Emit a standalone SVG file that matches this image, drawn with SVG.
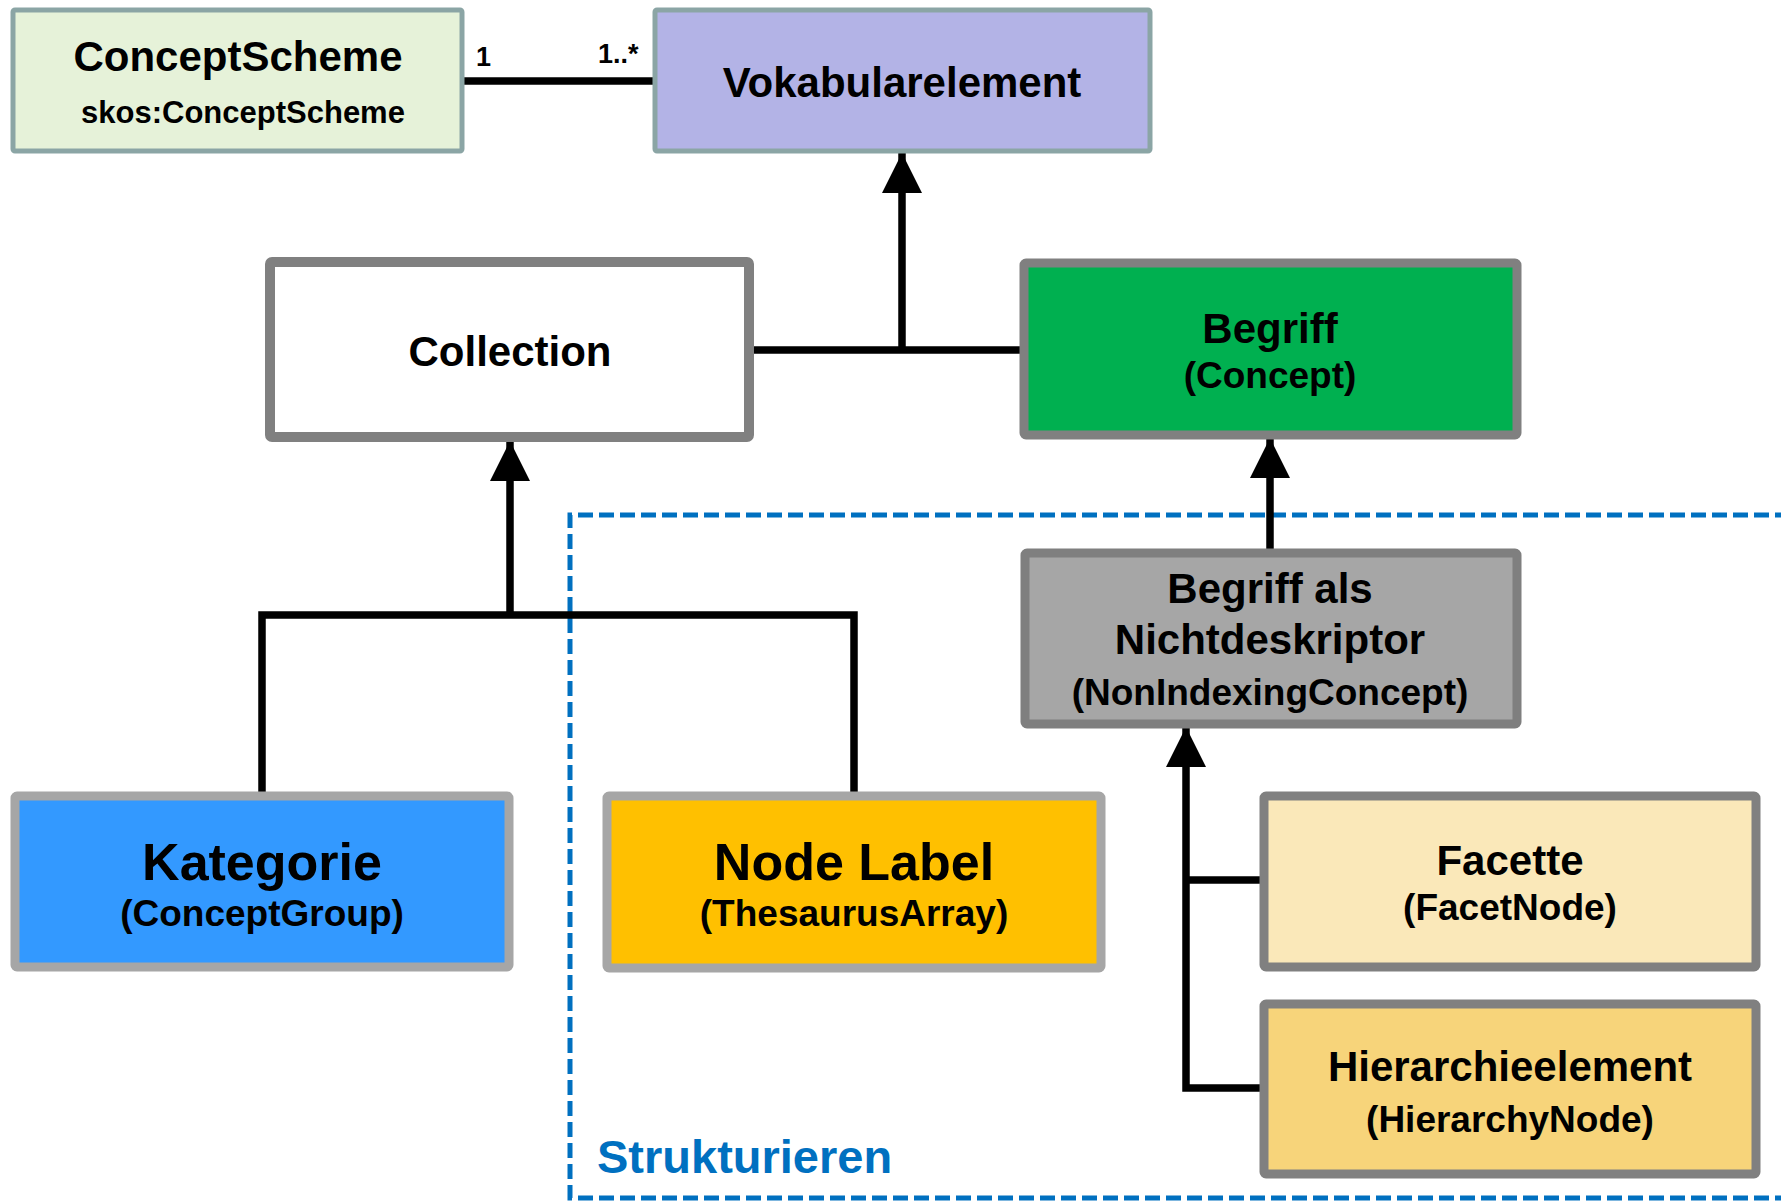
<svg xmlns="http://www.w3.org/2000/svg" width="1781" height="1202" viewBox="0 0 1781 1202">
<style>
  text { font-family: "Liberation Sans", Arial, sans-serif; font-weight: bold; fill: #000; text-anchor: middle; }
  .t42 { font-size: 42px; }
  .t37 { font-size: 37px; }
  .t52 { font-size: 52px; }
  .t31 { font-size: 31px; }
  .mult { font-size: 27px; text-anchor: start; }
  .conn { fill: none; stroke: #000; stroke-width: 7.5; }
  .box { stroke-linejoin: round; }
</style>
<defs>
  <marker id="tri" markerUnits="userSpaceOnUse" markerWidth="40" markerHeight="42" refX="40" refY="20" orient="auto">
    <path d="M0,0 L40,20 L0,40 Z" fill="#000"/>
  </marker>
</defs>
<rect width="1781" height="1202" fill="#fff"/>

<g id="area-strukturieren">
  <path d="M1790,515 H570 V1198 H1790" fill="none" stroke="#0070C0" stroke-width="5" stroke-dasharray="15 6"/>
  <text x="597" y="1173" style="font-size:47px;fill:#0070C0;text-anchor:start">Strukturieren</text>
</g>

<g id="connectors">
  <line class="conn" x1="463" y1="81" x2="654" y2="81"/>
  <line class="conn" x1="752" y1="350" x2="1021" y2="350"/>
  <line class="conn" x1="902" y1="350" x2="902" y2="153" marker-end="url(#tri)"/>
  <line class="conn" x1="1270" y1="550" x2="1270" y2="438" marker-end="url(#tri)"/>
  <path class="conn" d="M262,792 V615 H854 V792"/>
  <line class="conn" x1="510" y1="615" x2="510" y2="441" marker-end="url(#tri)"/>
  <path class="conn" d="M1261,880 H1186"/>
  <path class="conn" d="M1261,1088 H1186 V727" marker-end="url(#tri)"/>
  <text class="mult" x="476" y="66">1</text>
  <text class="mult" x="598" y="63">1..*</text>
</g>

<g id="node-conceptscheme">
  <rect class="box" x="13" y="10" width="449" height="141" rx="2" fill="#E6F2D9" stroke="#8BA5A5" stroke-width="5"/>
  <text class="t42" x="238" y="71">ConceptScheme</text>
  <text class="t31" x="243" y="123">skos:ConceptScheme</text>
</g>

<g id="node-vokabularelement">
  <rect class="box" x="655" y="10" width="495" height="141" rx="2" fill="#B3B3E6" stroke="#8BA5A5" stroke-width="5"/>
  <text class="t42" x="902" y="97">Vokabularelement</text>
</g>

<g id="node-collection">
  <rect class="box" x="270" y="262" width="479" height="175" rx="2" fill="#FFFFFF" stroke="#808080" stroke-width="10"/>
  <text class="t42" x="510" y="366">Collection</text>
</g>

<g id="node-begriff">
  <rect class="box" x="1024" y="263" width="493" height="172" rx="2" fill="#00B050" stroke="#808080" stroke-width="9"/>
  <text class="t42" x="1270" y="343">Begriff</text>
  <text class="t37" x="1270" y="388">(Concept)</text>
</g>

<g id="node-nichtdeskriptor">
  <rect class="box" x="1025" y="553" width="492" height="171" rx="2" fill="#A6A6A6" stroke="#7F7F7F" stroke-width="9"/>
  <text class="t42" x="1270" y="603">Begriff als</text>
  <text class="t42" x="1270" y="654">Nichtdeskriptor</text>
  <text class="t37" x="1270" y="705">(NonIndexingConcept)</text>
</g>

<g id="node-kategorie">
  <rect class="box" x="15" y="796" width="494" height="171" rx="2" fill="#3399FF" stroke="#A6A6A6" stroke-width="9"/>
  <text class="t52" x="262" y="880">Kategorie</text>
  <text class="t37" x="262" y="926">(ConceptGroup)</text>
</g>

<g id="node-nodelabel">
  <rect class="box" x="607" y="796" width="494" height="172" rx="2" fill="#FFC000" stroke="#A6A6A6" stroke-width="9"/>
  <text class="t52" x="854" y="880">Node Label</text>
  <text class="t37" x="854" y="926">(ThesaurusArray)</text>
</g>

<g id="node-facette">
  <rect class="box" x="1264" y="796" width="492" height="171" rx="2" fill="#FAE8B9" stroke="#808080" stroke-width="9"/>
  <text class="t42" x="1510" y="875">Facette</text>
  <text class="t37" x="1510" y="920">(FacetNode)</text>
</g>

<g id="node-hierarchieelement">
  <rect class="box" x="1264" y="1004" width="492" height="170" rx="2" fill="#F7D47A" stroke="#808080" stroke-width="9"/>
  <text class="t42" x="1510" y="1081">Hierarchieelement</text>
  <text class="t37" x="1510" y="1132">(HierarchyNode)</text>
</g>
</svg>
